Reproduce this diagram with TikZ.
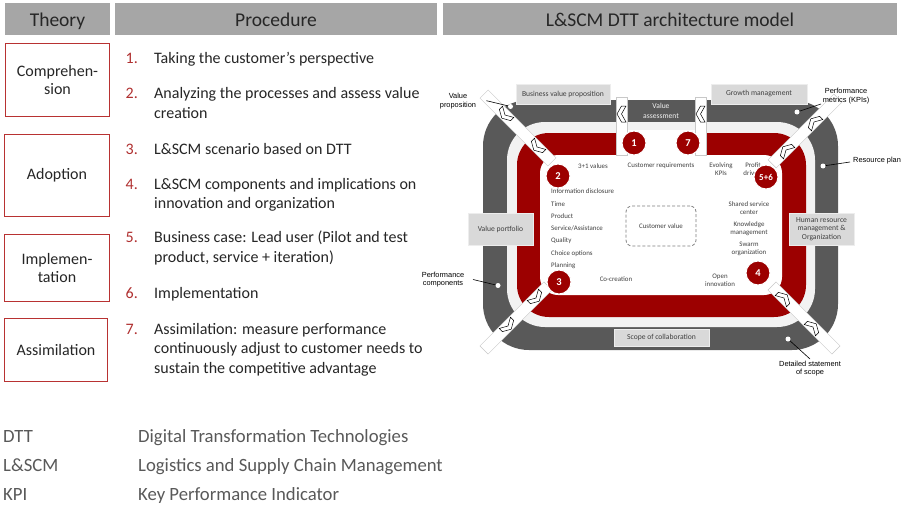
\documentclass[tikz,border=0pt]{standalone}
\usepackage{fontspec}
\setmainfont{Carlito}
\newfontfamily\arialf{Liberation Sans}
\newcommand\myfs[2]{\fontsize{#1}{#2}\selectfont}
\definecolor{hdr}{HTML}{A6A6A6}
\definecolor{boxred}{HTML}{B83232}
\definecolor{numred}{HTML}{B03030}
\definecolor{txt}{HTML}{262626}
\definecolor{abbr}{HTML}{595959}
\definecolor{ringdark}{HTML}{595959}
\definecolor{ringlight}{HTML}{F2F2F2}
\definecolor{ringred}{HTML}{9C0000}
\definecolor{lbl}{HTML}{D9D9D9}
\definecolor{lblborder}{HTML}{EDEDED}
\definecolor{innertxt}{HTML}{404040}
\definecolor{stripline}{HTML}{C8C8C8}
\definecolor{dashcol}{HTML}{7F7F7F}
\tikzset{chev/.pic={\draw[fill=white, draw=black, line width=0.5pt, line join=miter] (-4.5,-8) -- (0,-8) -- (4.5,0) -- (0,8) -- (-4.5,8) -- (0,0) -- cycle;}}
\begin{document}
\begin{tikzpicture}[x=1pt,y=-1pt,
  hdrbox/.style={fill=hdr, inner sep=0pt, minimum height=32pt, text height=16pt, text depth=2pt, font=\myfs{19.5}{23}, text=txt},
  theorybox/.style={draw=boxred, line width=1.2pt, inner sep=0pt, align=center, font=\myfs{16}{18.5}, text=txt},
  numtxt/.style={anchor=base west, inner sep=0pt, font=\myfs{16}{19.5}, text=numred},
  itemtxt/.style={anchor=base west, inner sep=0pt, font=\myfs{16}{19.5}, text=txt},
  abbrtxt/.style={anchor=base west, inner sep=0pt, font=\myfs{18.7}{22}, text=abbr},
  lblbox/.style={fill=lbl, draw=lblborder, line width=0.4pt, inner sep=0pt, align=center, font=\myfs{7.6}{8.4}, text=innertxt},
  stripbox/.style={fill=white, draw=stripline, line width=0.5pt, inner sep=0pt, minimum height=11.5pt},
  intxt/.style={inner sep=0pt, align=center, font=\myfs{6.9}{7.9}, text=innertxt},
  listtxt/.style={inner sep=0pt, anchor=west, font=\myfs{6.9}{8}, text=innertxt},
  stepcircle/.style={circle, fill=ringred, draw=white, line width=1pt, minimum size=24pt, inner sep=0pt, text=white, font=\bfseries\myfs{10.5}{12}},
  dotnode/.style={circle, fill=white, inner sep=0pt, minimum size=5pt},
  callout/.style={inner sep=0pt, align=center, font=\arialf\myfs{7.4}{8.6}, text=black},
  calline/.style={draw=black, line width=0.6pt},
]
\useasboundingbox (0,0) rectangle (907,506);
\fill[white] (0,0) rectangle (907,506);

% headers
\node[hdrbox, minimum width=105pt] (hTheory) at (57.5,19) {Theory};
\node[hdrbox, minimum width=322pt] (hProc) at (276,19) {Procedure};
\node[hdrbox, minimum width=454pt] (hArch) at (670,19) {L\&SCM DTT architecture model};

% theory boxes
\node[theorybox, minimum width=104pt, minimum height=73pt] (tComp) at (57.5,80) {Comprehen-\\sion};
\node[theorybox, minimum width=105pt, minimum height=82pt] (tAdop) at (57,175.5) {Adoption};
\node[theorybox, minimum width=105pt, minimum height=67pt] (tImpl) at (57,268) {Implemen-\\tation};
\node[theorybox, minimum width=103pt, minimum height=63pt] (tAssi) at (56,350) {Assimilation};

% procedure
\node[numtxt] (n1) at (125.5,63) {1.};
\node[itemtxt] (i1) at (154,63) {Taking the customer’s perspective};
\node[numtxt] (n2) at (125.5,98.5) {2.};
\node[itemtxt] (i2a) at (154,98.5) {Analyzing the processes and assess value};
\node[itemtxt] (i2b) at (154,118) {creation};
\node[numtxt] (n3) at (125.5,154) {3.};
\node[itemtxt] (i3) at (154,154) {L\&SCM scenario based on DTT};
\node[numtxt] (n4) at (125.5,189) {4.};
\node[itemtxt] (i4a) at (154,189) {L\&SCM components and implications on};
\node[itemtxt] (i4b) at (154,208.5) {innovation and organization};
\node[numtxt] (n5) at (125.5,242.5) {5.};
\node[itemtxt] (i5a) at (154,242.5) {Business case: Lead user (Pilot and test};
\node[itemtxt] (i5b) at (154,262) {product, service + iteration)};
\node[numtxt] (n6) at (125.5,298) {6.};
\node[itemtxt] (i6) at (154,298) {Implementation};
\node[numtxt] (n7) at (125.5,334) {7.};
\node[itemtxt] (i7a) at (154,334) {Assimilation: measure performance};
\node[itemtxt] (i7b) at (154,353.5) {continuously adjust to customer needs to};
\node[itemtxt] (i7c) at (154,373) {sustain the competitive advantage};

% abbreviations
\node[abbrtxt] (aDTT) at (3,442) {DTT};
\node[abbrtxt] (dDTT) at (138,442) {Digital Transformation Technologies};
\node[abbrtxt] (aLSCM) at (3,471) {L\&SCM};
\node[abbrtxt] (dLSCM) at (138,471) {Logistics and Supply Chain Management};
\node[abbrtxt] (aKPI) at (3,500) {KPI};
\node[abbrtxt] (dKPI) at (138,500) {Key Performance Indicator};

% rings
\fill[ringdark, rounded corners=46pt] (483,100) rectangle (838,350);
\fill[ringlight, rounded corners=38pt] (507,122) rectangle (815,327);
\fill[ringred, rounded corners=32pt] (517,133) rectangle (806,317);
\fill[white, rounded corners=18pt] (540,155) rectangle (782,295);
\fill[white] (616,129.5) rectangle (706,156);

% label boxes
\node[lblbox, minimum width=94pt, minimum height=20pt] (bvp) at (563,94) {Business value proposition};
\node[lblbox, minimum width=96pt, minimum height=20pt] (gm) at (759,94) {Growth management};
\node[lblbox, minimum width=65pt, minimum height=32pt] (vpf) at (500.5,229) {Value portfolio};
\node[lblbox, minimum width=65pt, minimum height=32pt] (hrm) at (821.5,229) {Human resource\\management \&\\Organization};
\node[lblbox, minimum width=95pt, minimum height=17pt] (soc) at (661.5,337.5) {Scope of collaboration};
\node[intxt, text=ringlight, font=\myfs{7.6}{9.5}] (va) at (661,111) {Value\\assessment};

% strips
\node[stripbox, minimum width=96pt, rotate=-45] (sTL) at (518,128) {};
\node[stripbox, minimum width=93pt, rotate=45] (sTR) at (805,131) {};
\node[stripbox, minimum width=90.5pt, rotate=45] (sBL) at (516,318) {};
\node[stripbox, minimum width=90.5pt, rotate=-45] (sBR) at (804,318) {};
\node[stripbox, minimum width=11pt, minimum height=58pt] (sT1) at (621.5,126) {};
\node[stripbox, minimum width=11pt, minimum height=58pt] (sT2) at (700.5,126) {};

% chevrons
\path (505,115) pic[rotate=225] {chev};
\path (537,147) pic[rotate=225] {chev};
\path (814,122) pic[rotate=135] {chev};
\path (786,150) pic[rotate=135] {chev};
\path (508,326) pic[rotate=315] {chev};
\path (536,298) pic[rotate=315] {chev};
\path (813,327) pic[rotate=45] {chev};
\path (784,298) pic[rotate=45] {chev};
\path (621.5,114) pic[rotate=180] {chev};
\path (700.5,114) pic[rotate=180] {chev};

% inner texts
\node[intxt] (tv) at (593,166) {3+1 values};
\node[intxt] (cr) at (661,166) {Customer requirements};
\node[intxt] (ek) at (721,169.5) {Evolving\\KPIs};
\node[intxt] (pd) at (753,169.5) {Profit\\drivers};
\node[listtxt] (l1) at (551,191.3) {Information disclosure};
\node[listtxt] (l2) at (551,203.7) {Time};
\node[listtxt] (l3) at (551,216.2) {Product};
\node[listtxt] (l4) at (551,228.6) {Service/Assistance};
\node[listtxt] (l5) at (551,241) {Quality};
\node[listtxt] (l6) at (551,253.4) {Choice options};
\node[listtxt] (l7) at (551,265.8) {Planning};
\node[intxt] (cc) at (616,279) {Co-creation};
\node[intxt, draw=dashcol, line width=0.8pt, dash pattern=on 3pt off 2pt, rounded corners=6pt, minimum width=70pt, minimum height=40pt] (cv) at (661,226) {Customer value};
\node[intxt] (ssc) at (749,208.3) {Shared service\\center};
\node[intxt] (km) at (749,228.5) {Knowledge\\management};
\node[intxt] (so) at (749,248.7) {Swarm\\organization};
\node[intxt] (oi) at (720,280.5) {Open\\innovation};

% circles
\node[stepcircle] (c1) at (634,143) {1};
\node[stepcircle] (c7) at (688,143) {7};
\node[stepcircle] (c2) at (558,176) {2};
\node[stepcircle] (c3) at (559,282) {3};
\node[stepcircle] (c4) at (758,273) {4};
\node[stepcircle, font=\bfseries\myfs{9}{10}] (c56) at (766,177) {5+6};

% dots and callouts
\node[dotnode] (dVP) at (510.5,106.5) {};
\node[dotnode] (dPM) at (797,112) {};
\node[dotnode] (dRP) at (823,166) {};
\node[dotnode] (dPC) at (498,285.5) {};
\node[dotnode] (dDS) at (788,339) {};

\node[callout] (lVP) at (458,101) {Value\\proposition};
\node[callout] (lPM) at (846,96) {Performance\\metrics (KPIs)};
\node[callout, anchor=west] (lRP) at (853,161) {Resource plan};
\node[callout] (lPC) at (443,279.5) {Performance\\components};
\node[callout] (lDS) at (810,368.5) {Detailed statement\\of scope};

\coordinate (eVP) at (486.5,100.7);
\coordinate (ePM) at (821,104);
\coordinate (eRP) at (850,162);
\coordinate (ePC) at (473,279.5);
\coordinate (eDS) at (810,359);
\draw[calline] (eVP) -- (dVP);
\draw[calline] (ePM) -- (dPM);
\draw[calline] (eRP) -- (dRP);
\draw[calline] (ePC) -- (dPC);
\draw[calline] (eDS) -- (dDS);
\end{tikzpicture}
\end{document}
